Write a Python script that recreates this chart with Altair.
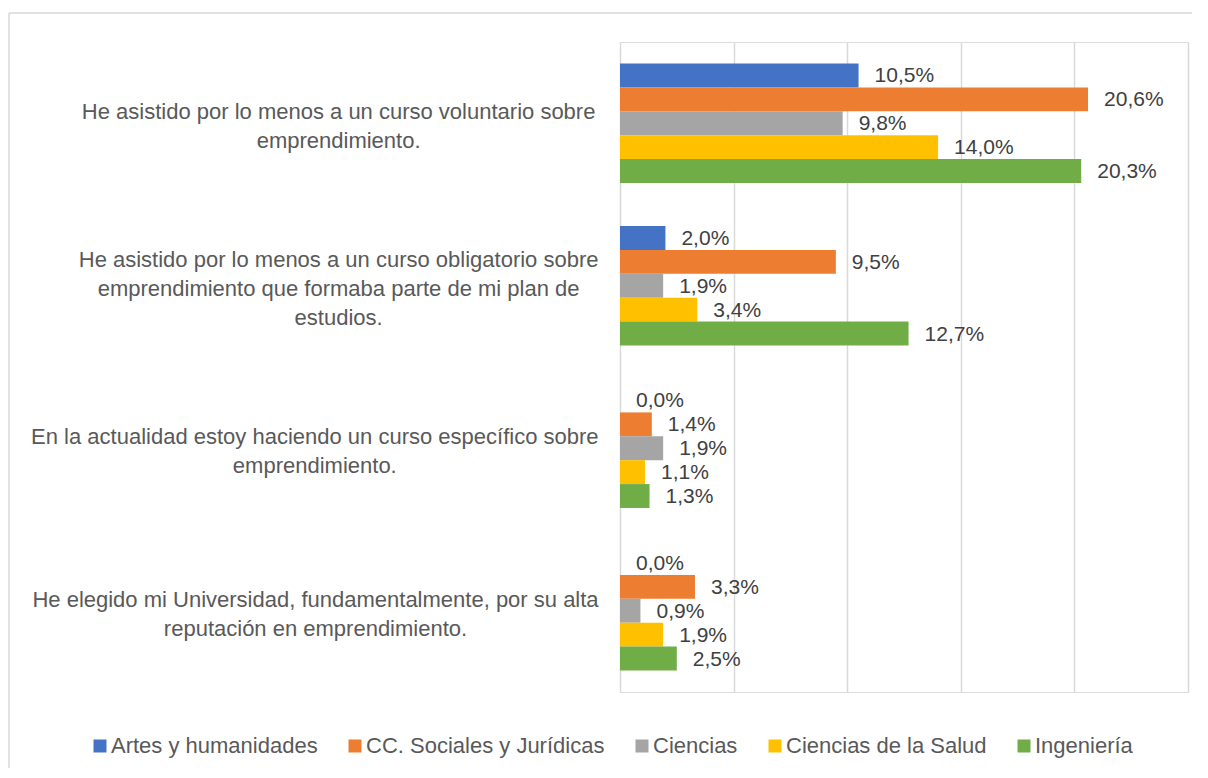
import json
import altair as alt
import pandas as pd

categories = [
    "He asistido por lo menos a un curso voluntario sobre|emprendimiento.",
    "He asistido por lo menos a un curso obligatorio sobre|emprendimiento que formaba parte de mi plan de|estudios.",
    "En la actualidad estoy haciendo un curso específico sobre|emprendimiento.",
    "He elegido mi Universidad, fundamentalmente, por su alta|reputación en emprendimiento.",
]
series = ["Artes y humanidades", "CC. Sociales y Jurídicas", "Ciencias",
          "Ciencias de la Salud", "Ingeniería"]
colors = ["#4472C4", "#ED7D31", "#A5A5A5", "#FFC000", "#70AD47"]

artes = [10.5, 2.0, 0.0, 0.0]
sociales = [20.6, 9.5, 1.4, 3.3]
ciencias = [9.8, 1.9, 1.9, 0.9]
salud = [14.0, 3.4, 1.1, 1.9]
ingenieria = [20.3, 12.7, 1.3, 2.5]

series_values = [artes, sociales, ciencias, salud, ingenieria]
rows = []
for s, vals in zip(series, series_values):
    for c, v in zip(categories, vals):
        rows.append({"cat": c, "serie": s, "v": v})
df = pd.DataFrame(rows)

label_pads = [281.9, 281.9, 305.7, 305.0]
label_offsets = [-11, -26, -11, -11]
pad_cond = [{"test": "datum.value === " + json.dumps(c), "value": p}
            for c, p in zip(categories, label_pads)]
off_cond = [{"test": "datum.value === " + json.dumps(c), "value": o}
            for c, o in zip(categories, label_offsets)]

FONT = "Liberation Sans"

y_enc = alt.Y(
    "cat:N", sort=categories, title=None,
    scale=alt.Scale(paddingInner=0.265, paddingOuter=0.1325),
    axis=alt.Axis(
        domain=False, ticks=False, grid=False,
        labelExpr="split(datum.label, '|')",
        labelAlign="center", labelBaseline="middle",
        labelFont=FONT, labelFontSize=22, labelColor="#595959",
        labelLineHeight=29, labelLimit=800,
        labelPadding={"condition": pad_cond, "value": 290},
        labelOffset={"condition": off_cond, "value": -11},
    ),
)
x_enc = alt.X(
    "v:Q", title=None,
    scale=alt.Scale(domain=[0, 25], nice=False),
    axis=alt.Axis(values=[0, 5, 10, 15, 20, 25], labels=False, ticks=False,
                  domain=False, grid=True, gridColor="#d9d9d9", gridWidth=1.5),
)

base = alt.Chart(df).encode(
    y=y_enc,
    yOffset=alt.YOffset("serie:N", sort=series,
                        scale=alt.Scale(paddingInner=0, paddingOuter=0)),
)

bars = base.mark_bar().encode(
    x=x_enc,
    color=alt.Color(
        "serie:N", sort=series,
        scale=alt.Scale(domain=series, range=colors),
        legend=alt.Legend(
            title=None, orient="none", direction="horizontal",
            legendX=-531, legendY=693,
            symbolType="square", symbolSize=169, symbolStrokeWidth=0,
            labelFont=FONT, labelFontSize=22, labelColor="#595959",
            labelOffset=0, columnPadding=26, labelLimit=400,
        ),
    ),
)

texts = base.mark_text(
    align="left", baseline="middle", dx=16, dy=1,
    font=FONT, fontSize=21, color="#404040",
).encode(
    x=alt.X("v:Q", scale=alt.Scale(domain=[0, 25], nice=False)),
    text="lbl:N",
).transform_calculate(
    lbl="replace(format(datum.v, '.1f'), '.', ',') + '%'"
)

frame_df = pd.DataFrame({"k": [0]})
top_line = alt.Chart(frame_df).mark_rule(color="#d9d9d9", strokeWidth=1.5).encode(
    x=alt.value(-611), x2=alt.value(572), y=alt.value(-29)
)
left_line = alt.Chart(frame_df).mark_rule(color="#d9d9d9", strokeWidth=1.5).encode(
    x=alt.value(-611), y=alt.value(-29), y2=alt.value(730)
)

chart = alt.layer(top_line, left_line, bars, texts).properties(
    width=568, height=650,
    autosize=alt.AutoSizeParams(type="none"),
    padding={"left": 612, "top": 34, "right": 4, "bottom": 76},
).configure_view(stroke=None).configure(font=FONT)

chart.save("out.html", embed_options={"renderer": "svg", "actions": False})
